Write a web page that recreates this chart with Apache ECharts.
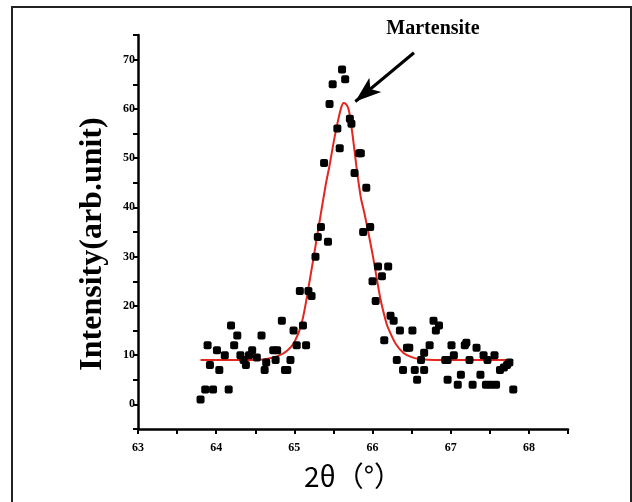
<!DOCTYPE html>
<html>
<head>
<meta charset="utf-8">
<script src="https://cdn.jsdelivr.net/npm/echarts@6/dist/echarts.min.js"></script>
<style>
  html, body { margin: 0; padding: 0; background: #fff; }
  #chart { width: 632px; height: 502px; }
</style>
</head>
<body>
<div id="chart"></div>
<script>
// measured points (2θ, intensity)
const pointX = [63.80, 63.86, 63.96, 64.16, 63.89, 63.92, 64.01, 64.04, 64.11, 64.19,
  64.27, 64.23, 64.31, 64.38, 64.35, 64.42, 64.46, 64.52, 64.58, 64.62,
  64.64, 64.73, 64.78, 64.76, 64.84, 64.88, 64.91, 64.95, 64.99, 65.03,
  65.07, 65.11, 65.15, 65.18, 65.22, 65.27, 65.30, 65.34, 65.43, 65.38,
  65.45, 65.49, 65.55, 65.58, 65.61, 65.65, 65.71, 65.73, 65.77, 65.83,
  65.85, 65.92, 65.88, 65.97, 66.00, 66.04, 66.07, 66.12, 66.20, 66.15,
  66.23, 66.27, 66.35, 66.51, 66.31, 66.39, 66.44, 66.47, 66.54, 66.57,
  66.62, 66.66, 66.66, 66.73, 66.78, 66.81, 66.85, 66.93, 66.96, 66.96,
  67.01, 67.04, 67.09, 67.13, 67.18, 67.20, 67.24, 67.28, 67.33, 67.38,
  67.42, 67.45, 67.51, 67.58, 67.47, 67.56, 67.63, 67.68, 67.72, 67.75, 67.80];
const pointY = [1, 3, 3, 3, 12, 8, 11, 7, 10, 16,
  14, 12, 10, 8, 9, 10, 11, 9.5, 14, 7,
  8.5, 11, 11, 9, 17, 7, 7, 9, 15, 12,
  23, 16, 12, 23, 22, 30, 34, 36, 33, 49,
  61, 65, 56, 52, 68, 66, 58, 57, 47, 51,
  51, 44, 35, 36, 25, 21, 28, 26, 28, 13,
  18, 17, 15, 15, 9, 7, 11.5, 11.5, 7, 5,
  9, 7, 10.5, 12, 17, 15, 16, 9, 9, 5,
  12, 10, 4, 6, 12, 12.5, 9, 4, 11.5, 6,
  10, 4, 4, 4, 9, 10, 7, 7.5, 8, 8.5, 3];

// fitted peak
const fitX = [63.8, 64.0, 64.2, 64.4, 64.6, 64.7, 64.8, 64.9, 65.0, 65.1,
  65.2, 65.3, 65.4, 65.45, 65.5, 65.55, 65.6, 65.63, 65.67, 65.7,
  65.75, 65.8, 65.85, 65.9, 66.0, 66.1, 66.17, 66.2, 66.3, 66.4,
  66.5, 66.6, 66.8, 67.0, 67.4, 67.8];
const fitY = [9, 9, 9, 9, 9.1, 9.4, 9.9, 10.8, 12.6, 16.9,
  25.5, 35, 44.5, 48.5, 53, 57, 60.3, 61.2, 60.8, 59.5,
  54, 47.5, 42, 38.5, 30.5, 21.5, 16.9, 15.5, 12.2, 10.4,
  9.6, 9.2, 9, 9, 9, 9];

// arrow pointing at the peak
const arrowFrom = [66.53, 71.4];
const arrowTo = [65.78, 61.5];

const chart = echarts.init(document.getElementById('chart'));

const labelFont = { color: '#000', fontFamily: 'Liberation Serif', fontWeight: 'bold', fontSize: 12 };

const option = {
  backgroundColor: '#fff',
  animation: false,
  grid: { left: 138, right: 64, top: 35, bottom: 73 },
  xAxis: {
    type: 'value',
    min: 63, max: 68.5, interval: 0.5,
    splitLine: { show: false },
    axisLine: { onZero: false, lineStyle: { color: '#000', width: 2.5 } },
    axisTick: { length: 5, lineStyle: { color: '#000', width: 2 } },
    axisLabel: Object.assign({ margin: 13, formatter: v => Number.isInteger(v) ? v : '' }, labelFont),
    name: '2θ（°）',
    nameLocation: 'middle',
    nameGap: 33,
    nameTextStyle: { color: '#000', fontFamily: 'Noto Sans CJK SC', fontSize: 28 }
  },
  yAxis: {
    type: 'value',
    min: -5, max: 75, interval: 5,
    splitLine: { show: false },
    axisLine: { onZero: false, lineStyle: { color: '#000', width: 2.5 } },
    axisTick: { length: 5, lineStyle: { color: '#000', width: 2 } },
    axisLabel: Object.assign({ margin: 3, formatter: v => v % 10 === 0 ? v : '' }, labelFont)
  },
  series: [
    {
      type: 'scatter',
      data: pointX.map((x, i) => [x, pointY[i]]),
      symbol: 'roundRect',
      symbolSize: 8,
      itemStyle: { color: '#000', opacity: 1 },
      z: 3,
      markLine: {
        silent: true,
        symbol: ['none', 'arrow'],
        symbolSize: [14, 26],
        label: { show: false },
        lineStyle: { color: '#000', width: 3, type: 'solid' },
        data: [[{ coord: arrowFrom }, { coord: arrowTo }]]
      }
    },
    {
      type: 'line',
      data: fitX.map((x, i) => [x, fitY[i]]),
      smooth: 0.3,
      showSymbol: false,
      lineStyle: { color: '#e3261f', width: 2 },
      z: 2
    }
  ],
  graphic: [
    {
      type: 'rect',
      shape: { x: 12, y: 7, width: 619, height: 510 },
      style: { fill: 'none', stroke: '#222', lineWidth: 2 }
    },
    {
      type: 'text',
      x: 93, y: 244,
      rotation: Math.PI / 2,
      style: {
        text: 'Intensity(arb.unit)',
        fill: '#000',
        font: 'bold 32px "Liberation Serif"',
        textAlign: 'center',
        textVerticalAlign: 'middle'
      }
    },
    {
      type: 'text',
      x: 433, y: 29,
      style: {
        text: 'Martensite',
        fill: '#000',
        font: 'bold 20px "Liberation Serif"',
        textAlign: 'center',
        textVerticalAlign: 'middle'
      }
    }
  ]
};

chart.setOption(option);
</script>
</body>
</html>
